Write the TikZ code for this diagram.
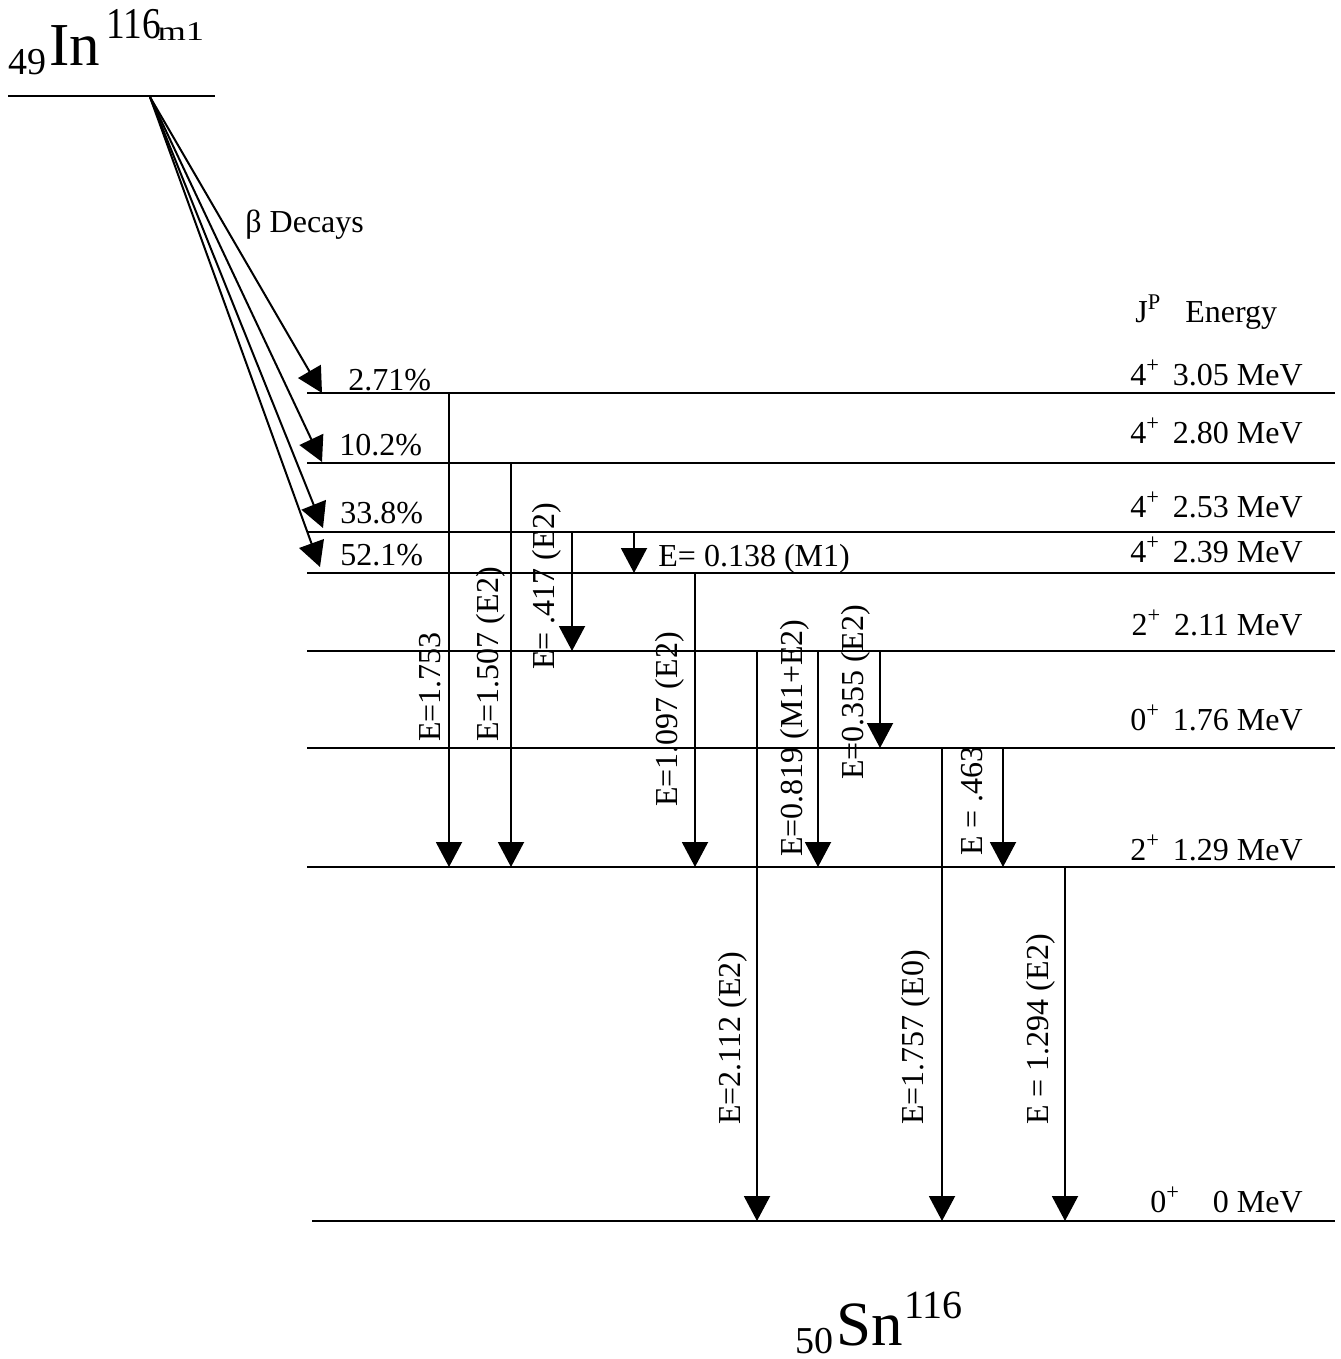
\documentclass[tikz,border=0pt]{standalone}
\usepackage{fontspec}
\setmainfont{Liberation Serif}
\usetikzlibrary{arrows.meta}
\newcommand{\lblfont}{\fontsize{16}{19}\selectfont}

\begin{document}
\begin{tikzpicture}[x=0.5pt, y=-0.5pt,
    level/.style={line width=1pt},
    gam/.style={line width=1pt, -{Triangle[length=12.5pt,width=13pt]}},
    elab/.style={rotate=90, anchor=base west, inner sep=0pt, font=\lblfont},
    txt/.style={anchor=base west, inner sep=0pt, font=\lblfont}]
  \useasboundingbox (0,0) rectangle (1340,1359);

  % Parent nucleus
  \node[anchor=base west, inner sep=0pt, font=\fontsize{19}{19}\selectfont] (inz) at (8,75) {49};
  \node[anchor=base west, inner sep=0pt, font=\fontsize{30.5}{31}\selectfont] (insym) at (49,66) {In};
  \node[anchor=base west, inner sep=0pt, xscale=0.85, font=\fontsize{22}{22}\selectfont] (ina) at (106,39) {116};
  \node[anchor=base west, inner sep=0pt, xscale=1.35, font=\fontsize{13.5}{14}\selectfont] (inm) at (157,41) {m1};
  \draw[level] (8,96) -- (215,96);
  \coordinate (parent) at (150,97);

  % Beta decays
  \node[txt] (betalab) at (245,232) {β Decays};
  \draw[gam] (parent) -- (322,393);
  \draw[gam] (parent) -- (322,462);
  \draw[gam] (parent) -- (323,528);
  \draw[gam] (parent) -- (320,567);
  \node[txt] (b1) at (348,390) {2.71\%};
  \node[txt] (b2) at (339,455) {10.2\%};
  \node[txt] (b3) at (340,523) {33.8\%};
  \node[txt] (b4) at (340,565) {52.1\%};

  % Levels of the daughter
  \foreach \y in {393,463,532,573,651,748,867}
    \draw[level] (307,\y) -- (1335,\y);
  \draw[level] (312,1221) -- (1335,1221);

  % Spin, parity and energy
  \node[txt] (jp) at (1135,322) {J\textsuperscript{P}\hspace{0.75em}Energy};
  \foreach \y/\j/\e in {385/4/3.05, 443/4/2.80, 517/4/2.53, 562/4/2.39,
                        635/2/2.11, 730/0/1.76, 860/2/1.29}
    \node[anchor=base east, inner sep=0pt, font=\lblfont] at (1303,\y)
      {\j\textsuperscript{+}\hspace{0.4em}\e\ MeV};
  \node[txt] (gsj) at (1150,1212) {0\textsuperscript{+}};
  \node[anchor=base east, inner sep=0pt, font=\lblfont] (gse) at (1303,1212) {0 MeV};

  % Gamma transitions
  \draw[gam] (449,393) -- (449,867);
  \node[elab] at (440,742) {E=1.753};
  \draw[gam] (511,463) -- (511,867);
  \node[elab] at (498,742) {E=1.507 (E2)};
  \draw[gam] (572,532) -- (572,651);
  \node[elab] at (554,670) {E= .417 (E2)};
  \draw[gam] (634,532) -- (634,573);
  \node[txt] at (658,566) {E= 0.138 (M1)};
  \draw[gam] (695,573) -- (695,867);
  \node[elab] at (677,807) {E=1.097 (E2)};
  \draw[gam] (757,651) -- (757,1221);
  \node[elab] at (740,1125) {E=2.112 (E2)};
  \draw[gam] (818,651) -- (818,867);
  \node[elab] at (802,857) {E=0.819 (M1+E2)};
  \draw[gam] (880,651) -- (880,748);
  \node[elab] at (863,780) {E=0.355 (E2)};
  \draw[gam] (942,748) -- (942,1221);
  \node[elab] at (923,1125) {E=1.757 (E0)};
  \draw[gam] (1003,748) -- (1003,867);
  \node[elab] at (982,856) {E = .463};
  \draw[gam] (1065,867) -- (1065,1221);
  \node[elab] at (1048,1125) {E = 1.294 (E2)};

  % Daughter nucleus
  \node[anchor=base west, inner sep=0pt, font=\fontsize{19}{19}\selectfont] (snz) at (795,1353) {50};
  \node[anchor=base west, inner sep=0pt, font=\fontsize{31.5}{32}\selectfont] (snsym) at (836,1345) {Sn};
  \node[anchor=base west, inner sep=0pt, font=\fontsize{20}{21}\selectfont] (sna) at (904,1318) {116};
\end{tikzpicture}
\end{document}
